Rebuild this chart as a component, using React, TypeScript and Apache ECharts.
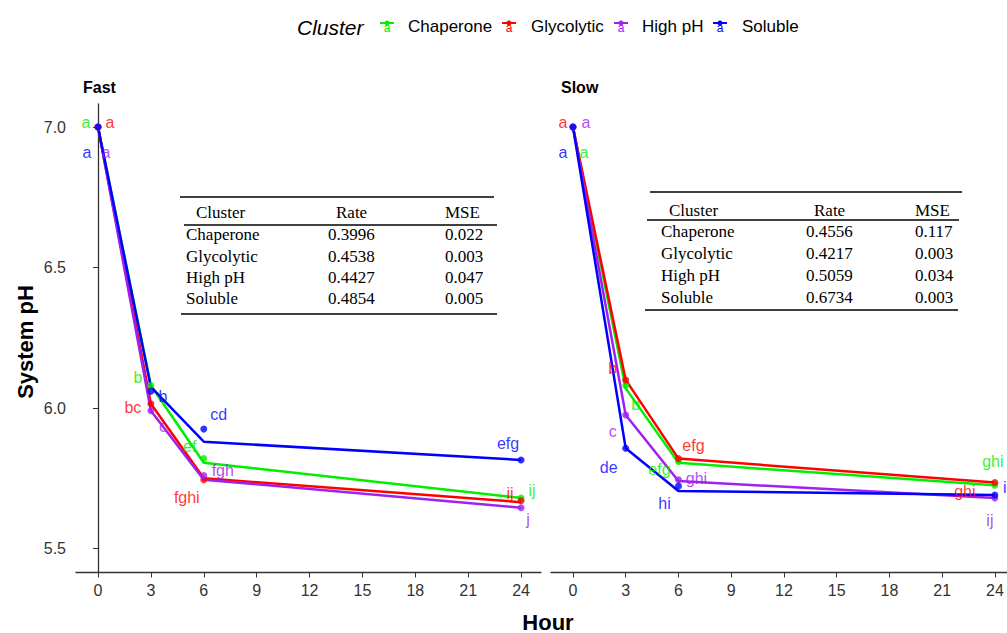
import React, { useEffect, useRef } from "react";
import * as echarts from "echarts";

const hours = [0, 3, 6, 24];
const clusters = ["Chaperone", "Glycolytic", "High pH", "Soluble"];
const clusterColors = ["#00ee00", "#ff0000", "#a020f0", "#0000ff"];
const panels = ["Fast", "Slow"];
const yTicks = [5.5, 6.0, 6.5, 7.0];
const xTicks = [0, 3, 6, 9, 12, 15, 18, 21, 24];

// observed means (points)
const fastChaperone = [7.0, 6.08, 5.82, 5.68];
const fastGlycolytic = [7.0, 6.015, 5.745, 5.67];
const fastHighPH = [7.0, 5.99, 5.76, 5.645];
const fastSoluble = [7.0, 6.06, 5.925, 5.815];
const slowChaperone = [7.0, 6.08, 5.81, 5.725];
const slowGlycolytic = [7.0, 6.1, 5.82, 5.735];
const slowHighPH = [7.0, 5.975, 5.745, 5.68];
const slowSoluble = [7.0, 5.857, 5.722, 5.69];

// fitted lines
const fastChaperoneFit = [7.0, 6.08, 5.805, 5.68];
const fastGlycolyticFit = [7.0, 6.015, 5.75, 5.665];
const fastHighPHFit = [7.0, 5.99, 5.745, 5.645];
const fastSolubleFit = [7.0, 6.075, 5.88, 5.815];
const slowChaperoneFit = [7.0, 6.07, 5.805, 5.725];
const slowGlycolyticFit = [7.0, 6.1, 5.82, 5.735];
const slowHighPHFit = [7.0, 5.975, 5.74, 5.68];
const slowSolubleFit = [7.0, 5.857, 5.705, 5.69];

// significance letters
const fastLetters = [
  ["a", "b", "ef", "ij"],
  ["a", "bc", "fghi", "ij"],
  ["a", "c", "fgh", "j"],
  ["a", "b", "cd", "efg"],
];
const slowLetters = [
  ["a", "b", "efg", "ghi"],
  ["a", "b", "efg", "ghi"],
  ["a", "c", "ghi", "ij"],
  ["a", "de", "hi", "i"],
];

// label offsets (style only)
const fastOffsets = [
  [[-12, -5], [-13, -8], [-14, -12], [11, -7]],
  [[12, -5], [-18, 4], [-17, 18], [-11, -7]],
  [[8, 25], [12, 16], [19, -5], [7, 12]],
  [[-11, 25], [12, 5], [15, -15], [-13, -16]],
];
const slowOffsets = [
  [[11, 25], [10, 19], [-19, 8], [-2, -24]],
  [[-10, -5], [-13, -11], [15, -13], [-30, 9]],
  [[13, -5], [-13, 16], [18, -1], [-5, 23]],
  [[-10, 25], [-17, 19], [-14, 17], [10, -8]],
];

// tables
const tableHeader = ["Cluster", "Rate", "MSE"];
const fastRate = ["0.3996", "0.4538", "0.4427", "0.4854"];
const fastMSE = ["0.022", "0.003", "0.047", "0.005"];
const slowRate = ["0.4556", "0.4217", "0.5059", "0.6734"];
const slowMSE = ["0.117", "0.003", "0.034", "0.003"];

const observed = [
  [fastChaperone, fastGlycolytic, fastHighPH, fastSoluble],
  [slowChaperone, slowGlycolytic, slowHighPH, slowSoluble],
];
const fitted = [
  [fastChaperoneFit, fastGlycolyticFit, fastHighPHFit, fastSolubleFit],
  [slowChaperoneFit, slowGlycolyticFit, slowHighPHFit, slowSolubleFit],
];
const letters = [fastLetters, slowLetters];
const offsets = [fastOffsets, slowOffsets];

const SANS = "'Liberation Sans', Arial, sans-serif";
const SERIF = "'Liberation Serif', 'Times New Roman', serif";

function buildTable(
  rates: string[],
  mses: string[],
  g: {
    rules: number[][];
    headerY: number;
    rowY: number[];
    nameX: number;
    headerNameX: number;
    rateX: number;
    mseX: number;
  }
) {
  const els: any[] = [];
  g.rules.forEach((r) => {
    els.push({
      type: "line",
      shape: { x1: r[0], y1: r[1], x2: r[2], y2: r[1] },
      style: { stroke: "#000", lineWidth: 1.3 },
    });
  });
  const txt = (t: string, x: number, y: number) => ({
    type: "text",
    x,
    y,
    style: {
      text: t,
      font: `17px ${SERIF}`,
      fill: "#000",
      textAlign: "left",
      textVerticalAlign: "middle",
    },
  });
  els.push(txt(tableHeader[0], g.headerNameX, g.headerY));
  els.push(txt(tableHeader[1], g.rateX + 8, g.headerY));
  els.push(txt(tableHeader[2], g.mseX, g.headerY));
  clusters.forEach((c, i) => {
    els.push(txt(c, g.nameX, g.rowY[i]));
    els.push(txt(rates[i], g.rateX, g.rowY[i]));
    els.push(txt(mses[i], g.mseX, g.rowY[i]));
  });
  return els;
}

export default function App() {
  const ref = useRef<HTMLDivElement>(null);
  useEffect(() => {
    document.body.style.margin = "0";
    const chart = echarts.init(ref.current!, undefined, { renderer: "svg" });

    const xMins = [-1.248, -1.25];
    const xMaxs = [25.13, 24.69];
    const yMin = 5.4146;
    const yMax = 7.082;

    const grids = [
      { left: 76, top: 104, width: 465, height: 468.5 },
      { left: 551, top: 104, width: 456, height: 468.5 },
    ];

    const xAxes = panels.map((_, p) => ({
      type: "value",
      gridIndex: p,
      min: xMins[p],
      max: xMaxs[p],
      axisLine: { show: true, lineStyle: { color: "#333", width: 1.3 } },
      axisTick: {
        show: true,
        length: 5,
        lineStyle: { color: "#333" },
        customValues: xTicks,
      },
      axisLabel: {
        show: true,
        margin: 10,
        color: "#333",
        fontSize: 16,
        fontFamily: SANS,
        customValues: xTicks,
      },
      splitLine: { show: false },
    }));

    const yAxes = panels.map((_, p) => ({
      type: "value",
      gridIndex: p,
      min: yMin,
      max: yMax,
      show: p === 0,
      axisLine: { show: p === 0, lineStyle: { color: "#333", width: 1.3 } },
      axisTick: {
        show: p === 0,
        length: 5,
        lineStyle: { color: "#333" },
        customValues: yTicks,
      },
      axisLabel: {
        show: p === 0,
        margin: 10,
        color: "#333",
        fontSize: 16,
        fontFamily: SANS,
        customValues: yTicks,
        formatter: (v: number) => v.toFixed(1),
      },
      splitLine: { show: false },
    }));

    const series: any[] = [];
    panels.forEach((_, p) => {
      clusters.forEach((c, ci) => {
        series.push({
          name: c,
          type: "line",
          xAxisIndex: p,
          yAxisIndex: p,
          data: hours.map((h, i) => [h, fitted[p][ci][i]]),
          showSymbol: false,
          lineStyle: { color: clusterColors[ci], width: 2.5 },
          itemStyle: { color: clusterColors[ci] },
          z: 2,
        });
      });
    });
    panels.forEach((_, p) => {
      clusters.forEach((c, ci) => {
        series.push({
          name: c,
          type: "scatter",
          xAxisIndex: p,
          yAxisIndex: p,
          symbolSize: 7,
          itemStyle: { color: clusterColors[ci] },
          z: 3,
          data: hours.map((h, i) => ({
            value: [h, observed[p][ci][i]],
            label: { offset: offsets[p][ci][i] },
          })),
          label: {
            show: true,
            position: "inside",
            formatter: (prm: any) => letters[p][ci][prm.dataIndex],
            color: clusterColors[ci],
            fontSize: 16,
            fontFamily: SANS,
            align: "center",
            verticalAlign: "middle",
          },
        });
      });
    });

    const legendIconX = [387, 509, 621, 720];
    const legendTextX = [408, 531, 642, 742];
    const graphic: any[] = [];
    graphic.push({
      type: "text",
      x: 297,
      y: 27,
      style: {
        text: "Cluster",
        font: `italic 21px ${SANS}`,
        fill: "#000",
        textVerticalAlign: "middle",
      },
    });
    clusters.forEach((c, i) => {
      const x = legendIconX[i];
      graphic.push({
        type: "line",
        shape: { x1: x - 7, y1: 23, x2: x + 7, y2: 23 },
        style: { stroke: clusterColors[i], lineWidth: 2 },
      });
      graphic.push({
        type: "circle",
        shape: { cx: x, cy: 23, r: 2.5 },
        style: { fill: clusterColors[i] },
      });
      graphic.push({
        type: "text",
        x,
        y: 28,
        style: {
          text: "a",
          font: `12px ${SANS}`,
          fill: clusterColors[i],
          textAlign: "center",
          textVerticalAlign: "middle",
        },
      });
      graphic.push({
        type: "text",
        x: legendTextX[i],
        y: 26,
        style: {
          text: c,
          font: `17px ${SANS}`,
          fill: "#000",
          textVerticalAlign: "middle",
        },
      });
    });
    // panel titles
    graphic.push({
      type: "text",
      x: 83,
      y: 87,
      style: { text: panels[0], font: `bold 16px ${SANS}`, fill: "#000", textVerticalAlign: "middle" },
    });
    graphic.push({
      type: "text",
      x: 561,
      y: 87,
      style: { text: panels[1], font: `bold 16px ${SANS}`, fill: "#000", textVerticalAlign: "middle" },
    });
    // axis titles
    graphic.push({
      type: "text",
      x: 548,
      y: 622,
      style: {
        text: "Hour",
        font: `bold 22px ${SANS}`,
        fill: "#000",
        textAlign: "center",
        textVerticalAlign: "middle",
      },
    });
    graphic.push({
      type: "text",
      x: 25,
      y: 342,
      rotation: Math.PI / 2,
      style: {
        text: "System pH",
        font: `bold 22px ${SANS}`,
        fill: "#000",
        textAlign: "center",
        textVerticalAlign: "middle",
      },
    });

    graphic.push(
      ...buildTable(fastRate, fastMSE, {
        rules: [
          [180, 197, 494],
          [184, 225, 497],
          [181, 314, 497],
        ],
        headerY: 212,
        rowY: [234, 256, 277, 298],
        nameX: 186,
        headerNameX: 196,
        rateX: 328,
        mseX: 445,
      })
    );
    graphic.push(
      ...buildTable(slowRate, slowMSE, {
        rules: [
          [650, 192, 962],
          [647, 220, 959],
          [645, 310, 958],
        ],
        headerY: 210,
        rowY: [231, 253, 275, 297],
        nameX: 661,
        headerNameX: 669,
        rateX: 806,
        mseX: 915,
      })
    );

    chart.setOption({
      animation: false,
      backgroundColor: "#fff",
      grid: grids,
      xAxis: xAxes,
      yAxis: yAxes,
      series,
      graphic,
    });
    return () => chart.dispose();
  }, []);
  return <div ref={ref} style={{ width: 1007, height: 633 }} />;
}
